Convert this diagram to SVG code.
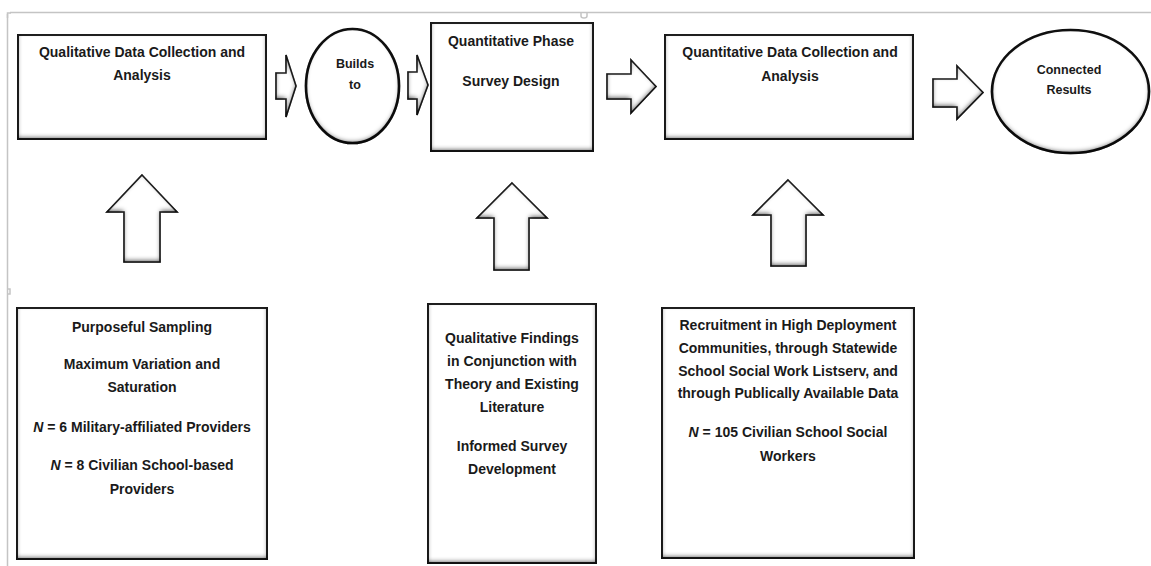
<svg xmlns="http://www.w3.org/2000/svg" width="1151" height="566" viewBox="0 0 1151 566">
<style>
.frame{fill:none;stroke:#c4c4c4;stroke-width:1.5}
.shape{fill:#fff;stroke:#222;stroke-width:2;filter:url(#bevel)}
.oval{fill:#fff;stroke:#111;stroke-width:2.6;filter:url(#bevel)}
.arrow{fill:#fff;stroke:#222;stroke-width:1.6;stroke-linejoin:miter;filter:url(#bevel)}
text{font-family:"Liberation Sans",Arial,sans-serif;font-weight:bold;font-size:14px;fill:#1a1a1a;text-anchor:middle}
.sm{font-size:12.5px}
.it{font-style:italic}
</style>
<defs>
<filter id="bevel" x="-50%" y="-50%" width="200%" height="200%" color-interpolation-filters="sRGB">
<feFlood flood-color="#000" flood-opacity="0.7" result="f"/>
<feComposite in="f" in2="SourceAlpha" operator="out" result="inv"/>
<feGaussianBlur in="inv" stdDeviation="2.8" result="b"/>
<feOffset in="b" dx="0" dy="-2.5" result="o"/>
<feComposite in="o" in2="SourceAlpha" operator="in" result="sh"/>
<feMerge><feMergeNode in="SourceGraphic"/><feMergeNode in="sh"/></feMerge>
</filter>
</defs>
<rect width="1151" height="566" fill="#fff"/>
<g id="frame">
<path class="frame" d="M10,12.5 H1151"/>
<path class="frame" d="M7.5,14 V566"/>
<path class="frame" d="M7.5,18 V13 H11"/>
<path class="frame" d="M581,12.5 V16 Q581,18 584,18 Q587,18 587,16 V12.5"/>
<path class="frame" d="M7.5,289 H10 V294 H7.5"/>
</g>
<g id="connectors">
<path class="arrow" d="M276,73 H286 V55 L296,86 L286,117 V99 H276 Z"/>
<path class="arrow" d="M408,72 H417 V55 L428,85 L417,115 V99 H408 Z"/>
<path class="arrow" d="M607,74 H631 V60 L656,86.5 L631,113 V99 H607 Z"/>
<path class="arrow" d="M933,79 H957 V66 L983,92.5 L957,119 V107 H933 Z"/>
<path class="arrow" d="M142,175 L177,212 H160 V262 H124 V212 H107 Z"/>
<path class="arrow" d="M512,183 L547,218 H529 V270 H494 V218 H477 Z"/>
<path class="arrow" d="M788,180 L823,215 H806 V266 H771 V215 H753 Z"/>
</g>
<g id="qual-data">
<rect class="shape" x="18" y="35" width="248" height="104"/>
<text x="142" y="57">Qualitative Data Collection and</text>
<text x="142" y="80">Analysis</text>
</g>
<g id="builds-to">
<ellipse class="oval" cx="352.5" cy="86" rx="46.5" ry="57"/>
<text class="sm" x="355" y="68">Builds</text>
<text class="sm" x="355" y="89">to</text>
</g>
<g id="quant-phase">
<rect class="shape" x="431" y="23" width="162" height="128"/>
<text x="511" y="46">Quantitative Phase</text>
<text x="511" y="86">Survey Design</text>
</g>
<g id="quant-data">
<rect class="shape" x="665" y="35" width="248" height="104"/>
<text x="790" y="57">Quantitative Data Collection and</text>
<text x="790" y="81">Analysis</text>
</g>
<g id="connected-results">
<ellipse class="oval" cx="1070.5" cy="91.5" rx="78.5" ry="61.5"/>
<text class="sm" x="1069" y="74">Connected</text>
<text class="sm" x="1069" y="94">Results</text>
</g>
<g id="sampling">
<rect class="shape" x="17" y="308" width="250" height="251"/>
<text x="142" y="332">Purposeful Sampling</text>
<text x="142" y="369">Maximum Variation and</text>
<text x="142" y="392">Saturation</text>
<text x="142" y="432"><tspan class="it">N</tspan> = 6 Military-affiliated Providers</text>
<text x="142" y="470"><tspan class="it">N</tspan> = 8 Civilian School-based</text>
<text x="142" y="494">Providers</text>
</g>
<g id="findings">
<rect class="shape" x="428" y="304" width="168" height="259"/>
<text x="512" y="343">Qualitative Findings</text>
<text x="512" y="366">in Conjunction with</text>
<text x="512" y="389">Theory and Existing</text>
<text x="512" y="412">Literature</text>
<text x="512" y="451">Informed Survey</text>
<text x="512" y="474">Development</text>
</g>
<g id="recruitment">
<rect class="shape" x="662" y="308" width="252" height="250"/>
<text x="788" y="330">Recruitment in High Deployment</text>
<text x="788" y="353">Communities, through Statewide</text>
<text x="788" y="376">School Social Work Listserv, and</text>
<text x="788" y="398">through Publically Available Data</text>
<text x="788" y="437"><tspan class="it">N</tspan> = 105 Civilian School Social</text>
<text x="788" y="461">Workers</text>
</g>
</svg>
